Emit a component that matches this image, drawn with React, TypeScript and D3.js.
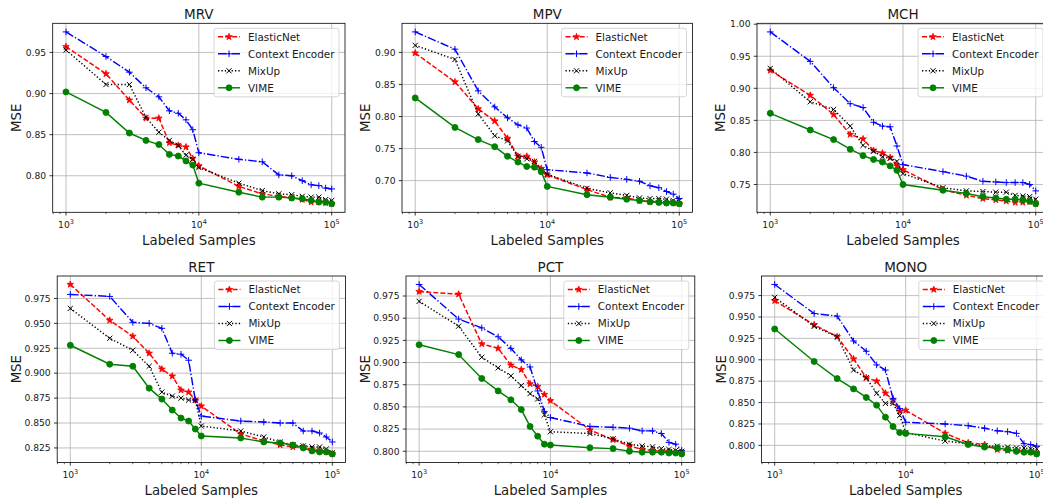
import React from "react";
import * as d3 from "d3";

const samples = [1000, 2000, 3000, 4000, 5000, 6000, 7000, 8000, 9000, 10000, 20000, 30000, 40000, 50000, 60000, 70000, 80000, 90000, 100000];
const seriesNames = ["ElasticNet", "Context Encoder", "MixUp", "VIME"];
const titles = ["MRV", "MPV", "MCH", "RET", "PCT", "MONO"];

const mrvElasticNet = [0.957, 0.924, 0.892, 0.870, 0.870, 0.840, 0.837, 0.835, 0.821, 0.812, 0.787, 0.778, 0.775, 0.773, 0.771, 0.768, 0.768, 0.767, 0.766];
const mrvContextEncoder = [0.975, 0.945, 0.926, 0.907, 0.896, 0.879, 0.876, 0.868, 0.856, 0.828, 0.820, 0.817, 0.801, 0.800, 0.794, 0.789, 0.788, 0.785, 0.784];
const mrvMixUp = [0.953, 0.911, 0.911, 0.871, 0.853, 0.843, 0.837, 0.825, 0.820, 0.810, 0.791, 0.782, 0.778, 0.777, 0.775, 0.774, 0.774, 0.771, 0.770];
const mrvVIME = [0.902, 0.877, 0.852, 0.843, 0.838, 0.826, 0.824, 0.818, 0.813, 0.791, 0.780, 0.774, 0.774, 0.773, 0.772, 0.770, 0.768, 0.768, 0.766];

const mpvElasticNet = [0.899, 0.854, 0.812, 0.793, 0.766, 0.738, 0.738, 0.729, 0.719, 0.709, 0.686, 0.674, 0.673, 0.669, 0.667, 0.667, 0.666, 0.665, 0.664];
const mpvContextEncoder = [0.932, 0.905, 0.840, 0.815, 0.798, 0.787, 0.782, 0.761, 0.752, 0.717, 0.712, 0.705, 0.702, 0.699, 0.692, 0.689, 0.683, 0.679, 0.672];
const mpvMixUp = [0.911, 0.889, 0.804, 0.770, 0.762, 0.738, 0.734, 0.730, 0.716, 0.710, 0.688, 0.681, 0.677, 0.673, 0.672, 0.672, 0.671, 0.669, 0.669];
const mpvVIME = [0.829, 0.783, 0.764, 0.753, 0.738, 0.729, 0.722, 0.721, 0.714, 0.691, 0.678, 0.674, 0.671, 0.669, 0.667, 0.666, 0.665, 0.665, 0.664];

const mchElasticNet = [0.928, 0.889, 0.859, 0.828, 0.821, 0.803, 0.799, 0.792, 0.779, 0.773, 0.742, 0.733, 0.728, 0.726, 0.724, 0.722, 0.722, 0.723, 0.720];
const mchContextEncoder = [0.988, 0.942, 0.901, 0.876, 0.870, 0.847, 0.841, 0.840, 0.810, 0.781, 0.770, 0.763, 0.755, 0.754, 0.753, 0.753, 0.753, 0.750, 0.740];
const mchMixUp = [0.931, 0.879, 0.867, 0.841, 0.811, 0.802, 0.793, 0.791, 0.786, 0.767, 0.745, 0.740, 0.739, 0.738, 0.738, 0.733, 0.732, 0.731, 0.727];
const mchVIME = [0.861, 0.835, 0.820, 0.805, 0.795, 0.789, 0.785, 0.779, 0.772, 0.750, 0.741, 0.736, 0.731, 0.729, 0.727, 0.727, 0.726, 0.724, 0.720];

const retElasticNet = [0.989, 0.953, 0.937, 0.920, 0.904, 0.897, 0.883, 0.881, 0.873, 0.867, 0.839, 0.832, 0.828, 0.826, 0.826, 0.823, 0.822, 0.821, 0.819];
const retContextEncoder = [0.979, 0.977, 0.951, 0.950, 0.945, 0.920, 0.919, 0.913, 0.873, 0.857, 0.852, 0.851, 0.850, 0.850, 0.842, 0.842, 0.840, 0.836, 0.831];
const retMixUp = [0.965, 0.935, 0.923, 0.907, 0.881, 0.877, 0.875, 0.873, 0.873, 0.847, 0.842, 0.836, 0.831, 0.828, 0.827, 0.826, 0.826, 0.824, 0.820];
const retVIME = [0.928, 0.909, 0.907, 0.885, 0.874, 0.863, 0.855, 0.852, 0.844, 0.837, 0.835, 0.831, 0.830, 0.828, 0.825, 0.822, 0.821, 0.821, 0.819];

const pctElasticNet = [0.980, 0.977, 0.921, 0.916, 0.897, 0.892, 0.876, 0.873, 0.864, 0.857, 0.824, 0.813, 0.806, 0.802, 0.801, 0.800, 0.800, 0.799, 0.798];
const pctContextEncoder = [0.988, 0.949, 0.939, 0.929, 0.916, 0.903, 0.895, 0.868, 0.845, 0.838, 0.828, 0.827, 0.826, 0.823, 0.823, 0.820, 0.810, 0.808, 0.801];
const pctMixUp = [0.969, 0.941, 0.906, 0.894, 0.885, 0.874, 0.865, 0.859, 0.841, 0.822, 0.820, 0.814, 0.808, 0.806, 0.805, 0.803, 0.802, 0.801, 0.800];
const pctVIME = [0.920, 0.909, 0.882, 0.868, 0.858, 0.847, 0.828, 0.817, 0.808, 0.807, 0.804, 0.803, 0.800, 0.799, 0.799, 0.799, 0.798, 0.798, 0.797];

const monoElasticNet = [0.969, 0.941, 0.927, 0.901, 0.879, 0.875, 0.861, 0.853, 0.840, 0.841, 0.814, 0.803, 0.801, 0.795, 0.794, 0.794, 0.793, 0.793, 0.791];
const monoContextEncoder = [0.988, 0.954, 0.951, 0.922, 0.910, 0.894, 0.888, 0.855, 0.843, 0.827, 0.825, 0.823, 0.820, 0.817, 0.816, 0.814, 0.802, 0.801, 0.799];
const monoMixUp = [0.973, 0.939, 0.927, 0.888, 0.879, 0.861, 0.849, 0.849, 0.835, 0.815, 0.805, 0.802, 0.799, 0.799, 0.798, 0.797, 0.797, 0.796, 0.796];
const monoVIME = [0.936, 0.898, 0.878, 0.866, 0.856, 0.847, 0.833, 0.822, 0.815, 0.814, 0.810, 0.801, 0.798, 0.797, 0.795, 0.793, 0.792, 0.792, 0.790];

const mrvTicks = [0.80, 0.85, 0.90, 0.95];
const mpvTicks = [0.70, 0.75, 0.80, 0.85, 0.90];
const mchTicks = [0.75, 0.80, 0.85, 0.90, 0.95, 1.00];
const retTicks = [0.825, 0.850, 0.875, 0.900, 0.925, 0.950, 0.975];
const pctTicks = [0.800, 0.825, 0.850, 0.875, 0.900, 0.925, 0.950, 0.975];
const monoTicks = [0.800, 0.825, 0.850, 0.875, 0.900, 0.925, 0.950, 0.975];
const xMajorTicks = [1e3, 1e4, 1e5];

const panelSeries = [
  [mrvElasticNet, mrvContextEncoder, mrvMixUp, mrvVIME],
  [mpvElasticNet, mpvContextEncoder, mpvMixUp, mpvVIME],
  [mchElasticNet, mchContextEncoder, mchMixUp, mchVIME],
  [retElasticNet, retContextEncoder, retMixUp, retVIME],
  [pctElasticNet, pctContextEncoder, pctMixUp, pctVIME],
  [monoElasticNet, monoContextEncoder, monoMixUp, monoVIME],
];
const panelTicks = [mrvTicks, mpvTicks, mchTicks, retTicks, pctTicks, monoTicks];

// layout (pixel boxes of each axes frame)
const boxes = [
  { l: 52.7, r: 345, t: 23.3, b: 212.3 },
  { l: 402, r: 692.5, t: 23.3, b: 212.3 },
  { l: 757, r: 1049, t: 23.3, b: 212.3 },
  { l: 57.2, r: 345.4, t: 276, b: 462.4 },
  { l: 406, r: 694.8, t: 276, b: 462.4 },
  { l: 761.6, r: 1049.8, t: 276, b: 462.4 },
];

const styles = [
  { color: "#ff0000", dash: "5,2.1", marker: "star" },
  { color: "#0000ff", dash: "8.4,2.1,1.3,2.1", marker: "plus" },
  { color: "#000000", dash: "1.3,2.1", marker: "x" },
  { color: "#008000", dash: "", marker: "circle" },
];

const FONT = "DejaVu Sans, sans-serif";
const LW = 1.45;
const TXT = "#1a1a1a";

function starPath(cx: number, cy: number, R: number, r: number) {
  const p = d3.path();
  for (let i = 0; i < 10; i++) {
    const a = -Math.PI / 2 + (i * Math.PI) / 5;
    const rad = i % 2 === 0 ? R : r;
    const x = cx + rad * Math.cos(a);
    const y = cy + rad * Math.sin(a);
    if (i === 0) p.moveTo(x, y);
    else p.lineTo(x, y);
  }
  p.closePath();
  return p.toString();
}

function Marker({ type, x, y, color }: { type: string; x: number; y: number; color: string }) {
  if (type === "star") {
    return <path d={starPath(x, y, 3.5, 1.4)} fill={color} stroke={color} strokeWidth={0.8} strokeLinejoin="miter" />;
  }
  if (type === "plus") {
    const h = 3.3;
    return (
      <path d={`M${x - h},${y}L${x + h},${y}M${x},${y - h}L${x},${y + h}`} stroke={color} strokeWidth={1} fill="none" />
    );
  }
  if (type === "x") {
    const h = 2.6;
    return (
      <path d={`M${x - h},${y - h}L${x + h},${y + h}M${x - h},${y + h}L${x + h},${y - h}`} stroke={color} strokeWidth={1} fill="none" />
    );
  }
  return <circle cx={x} cy={y} r={3} fill={color} stroke={color} strokeWidth={0.9} />;
}

function Panel({ idx }: { idx: number }) {
  const box = boxes[idx];
  const series = panelSeries[idx];
  const ticks = panelTicks[idx];
  const all = series.flat();
  const mn = d3.min(all) as number;
  const mx = d3.max(all) as number;
  const m = (mx - mn) * 0.05;
  const x = d3.scaleLog().domain([Math.pow(10, 2.9), Math.pow(10, 5.1)]).range([box.l, box.r]);
  const y = d3.scaleLinear().domain([mn - m, mx + m]).range([box.b, box.t]);
  const dec = ticks.some((t) => Math.abs(Math.round(t * 100) - t * 100) > 1e-6) ? 3 : 2;
  const fmt = d3.format(`.${dec}f`);
  const [d0, d1] = x.domain();
  const minor: number[] = [];
  [100, 1000, 10000, 100000].forEach((base) => {
    for (let k = 2; k <= 9; k++) {
      const v = k * base;
      if (v > d0 && v < d1) minor.push(v);
    }
  });
  const line = d3
    .line<number>()
    .x((_, i) => x(samples[i]))
    .y((d) => y(d));
  const cxm = (box.l + box.r) / 2;
  const cym = (box.t + box.b) / 2;
  const ylabX = box.l - (dec === 3 ? 36 : 31.8);
  const legW = 125;
  const legX = box.r - 6 - legW;
  const legY = box.t + 5;

  return (
    <g>
      {xMajorTicks.map((t) => (
        <line key={"gx" + t} x1={x(t)} x2={x(t)} y1={box.t} y2={box.b} stroke="#b0b0b0" strokeWidth={0.8} />
      ))}
      {ticks.map((t) => (
        <line key={"gy" + t} x1={box.l} x2={box.r} y1={y(t)} y2={y(t)} stroke="#b0b0b0" strokeWidth={0.8} />
      ))}
      {series.map((s, si) => (
        <g key={"s" + si}>
          <path
            d={line(s) || ""}
            fill="none"
            stroke={styles[si].color}
            strokeWidth={LW}
            strokeDasharray={styles[si].dash || undefined}
          />
          {s.map((v, i) => (
            <Marker key={i} type={styles[si].marker} x={x(samples[i])} y={y(v)} color={styles[si].color} />
          ))}
        </g>
      ))}
      <rect x={box.l} y={box.t} width={box.r - box.l} height={box.b - box.t} fill="none" stroke="#000" strokeWidth={0.8} />
      {xMajorTicks.map((t) => (
        <g key={"xt" + t}>
          <line x1={x(t)} x2={x(t)} y1={box.b} y2={box.b + 3.2} stroke="#000" strokeWidth={0.8} />
          <text x={x(t)} y={box.b + 15.5} textAnchor="middle" fontFamily={FONT} fontSize={9.2} fill={TXT}>
            10<tspan dy={-3.8} fontSize={6.5}>{Math.round(Math.log10(t))}</tspan>
          </text>
        </g>
      ))}
      {minor.map((t) => (
        <line key={"mt" + t} x1={x(t)} x2={x(t)} y1={box.b} y2={box.b + 1.8} stroke="#000" strokeWidth={0.6} />
      ))}
      {ticks.map((t) => (
        <g key={"yt" + t}>
          <line x1={box.l - 3.2} x2={box.l} y1={y(t)} y2={y(t)} stroke="#000" strokeWidth={0.8} />
          <text x={box.l - 6.5} y={y(t) + 3.3} textAnchor="end" fontFamily={FONT} fontSize={9.2} fill={TXT}>
            {fmt(t)}
          </text>
        </g>
      ))}
      <text x={cxm} y={box.t - 4.5} textAnchor="middle" fontFamily={FONT} fontSize={13.5} fill={TXT}>
        {titles[idx]}
      </text>
      <text x={cxm} y={box.b + 32.7} textAnchor="middle" fontFamily={FONT} fontSize={13.3} fill={TXT}>
        Labeled Samples
      </text>
      <text
        x={ylabX}
        y={cym}
        textAnchor="middle"
        fontFamily={FONT}
        fontSize={13.3}
        fill={TXT}
        transform={`rotate(-90 ${ylabX} ${cym})`}
      >
        MSE
      </text>
      <g>
        <rect x={legX} y={legY} width={legW} height={68.5} rx={2.5} fill="#fff" fillOpacity={0.8} stroke="#cccccc" strokeWidth={0.8} />
        {seriesNames.map((nm, i) => {
          const cy = legY + 8.5 + 17 * i;
          return (
            <g key={nm}>
              <line
                x1={legX + 4}
                x2={legX + 26}
                y1={cy}
                y2={cy}
                stroke={styles[i].color}
                strokeWidth={LW}
                strokeDasharray={styles[i].dash || undefined}
              />
              <Marker type={styles[i].marker} x={legX + 15} y={cy} color={styles[i].color} />
              <text x={legX + 34} y={cy + 3.7} fontFamily={FONT} fontSize={10.4} fill={TXT}>
                {nm}
              </text>
            </g>
          );
        })}
      </g>
    </g>
  );
}

export default function App() {
  return (
    <svg
      width={1043}
      height={501}
      viewBox="0 0 1043 501"
      style={{ position: "absolute", left: 0, top: 0, background: "#fff" }}
    >
      <rect x={0} y={0} width={1043} height={501} fill="#fff" />
      {titles.map((_, i) => (
        <Panel key={i} idx={i} />
      ))}
    </svg>
  );
}
